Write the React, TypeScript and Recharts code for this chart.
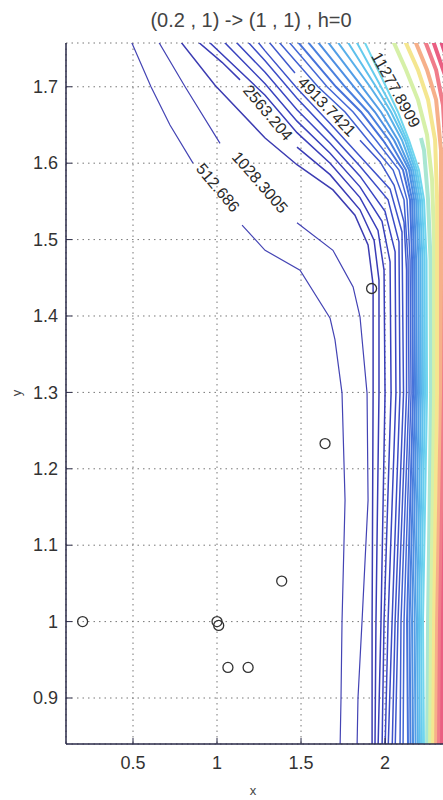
import React from 'react';
import { ComposedChart, Line, Scatter, XAxis, YAxis, CartesianGrid } from 'recharts';

type Pt = [number, number | null];

const FONT = '"Liberation Sans", Arial, Helvetica, sans-serif';

const TITLE = '(0.2 , 1) -> (1 , 1) , h=0';
const X_TICKS = [0.5, 1, 1.5, 2];
const Y_TICKS = [0.9, 1, 1.1, 1.2, 1.3, 1.4, 1.5, 1.6, 1.7];

// sample points drawn as open circles
const SAMPLE_X = [0.2, 1.0, 1.01, 1.065, 1.185, 1.385, 1.643, 1.92];
const SAMPLE_Y = [1.0, 1.0, 0.995, 0.94, 0.94, 1.053, 1.233, 1.436];

// contour lines, left (low level) to right (high level)
// a point with y = null is where clabel cut the line for its text
const LEVEL_01: Pt[] = [[0.488, 1.76], [0.607, 1.70], [0.72, 1.65], [0.857, 1.60], [1.0, null], [1.149, 1.519], [1.286, 1.486], [1.494, 1.46], [1.673, 1.397], [1.702, 1.369], [1.744, 1.299], [1.762, 1.159], [1.744, 1.0], [1.738, 0.9], [1.732, 0.83]];
const LEVEL_02: Pt[] = [[0.649, 1.76], [0.81, 1.70], [1.018, 1.626], [1.25, null], [1.476, 1.522], [1.69, 1.486], [1.81, 1.438], [1.851, 1.399], [1.893, 1.299], [1.899, 1.159], [1.863, 1.0], [1.839, 0.9], [1.833, 0.83]];
const LEVEL_03: Pt[] = [[0.78, 1.76], [0.988, 1.702], [1.286, 1.633], [1.476, 1.598], [1.69, 1.565], [1.821, 1.532], [1.899, 1.493], [1.929, 1.441], [1.929, 1.299], [1.923, 1.0], [1.923, 0.83]];
const LEVEL_04: Pt[] = [[0.881, 1.76], [1.03, 1.732], [1.137, 1.709], [1.3, null], [1.476, 1.621], [1.673, 1.585], [1.851, 1.539], [1.935, 1.499], [1.964, 1.447], [1.964, 1.299], [1.946, 1.0], [1.94, 0.83]];
const LEVEL_05: Pt[] = [[0.946, 1.76], [1.286, 1.689], [1.476, 1.64], [1.673, 1.6], [1.851, 1.555], [1.958, 1.512], [1.994, 1.46], [2.0, 1.299], [1.976, 1.0], [1.958, 0.83]];
const LEVEL_06: Pt[] = [[1.036, 1.76], [1.286, 1.704], [1.476, 1.655], [1.673, 1.613], [1.851, 1.569], [1.982, 1.524], [2.03, 1.471], [2.036, 1.299], [1.994, 1.0], [1.982, 0.83]];
const LEVEL_07: Pt[] = [[1.107, 1.76], [1.286, 1.719], [1.476, 1.67], [1.673, 1.626], [1.851, 1.583], [2.0, 1.537], [2.06, 1.484], [2.065, 1.299], [2.018, 1.0], [2.0, 0.83]];
const LEVEL_08: Pt[] = [[1.179, 1.76], [1.286, 1.734], [1.476, 1.685], [1.673, 1.639], [1.851, 1.596], [2.018, 1.552], [2.083, 1.497], [2.089, 1.299], [2.042, 1.0], [2.018, 0.83]];
const LEVEL_09: Pt[] = [[1.238, 1.76], [1.286, 1.747], [1.476, 1.698], [1.673, 1.652], [1.851, 1.609], [2.03, 1.566], [2.101, 1.51], [2.11, 1.299], [2.06, 1.0], [2.042, 0.83]];
const LEVEL_10: Pt[] = [[1.304, 1.76], [1.464, 1.718], [1.65, null], [1.851, 1.63], [1.97, 1.602], [2.054, 1.571], [2.113, 1.523], [2.128, 1.46], [2.128, 1.299], [2.077, 1.0], [2.06, 0.83]];
const LEVEL_11: Pt[] = [[1.363, 1.76], [1.601, 1.70], [1.762, 1.667], [1.899, 1.63], [2.048, 1.591], [2.113, 1.552], [2.137, 1.473], [2.143, 1.299], [2.095, 1.0], [2.089, 0.83]];
const LEVEL_12: Pt[] = [[1.423, 1.76], [1.655, 1.70], [1.81, 1.667], [1.946, 1.63], [2.083, 1.591], [2.131, 1.552], [2.149, 1.473], [2.155, 1.299], [2.113, 1.0], [2.107, 0.83]];
const LEVEL_13: Pt[] = [[1.476, 1.76], [1.708, 1.70], [1.857, 1.667], [1.988, 1.63], [2.107, 1.591], [2.149, 1.552], [2.161, 1.473], [2.167, 1.299], [2.131, 1.0], [2.137, 0.83]];
const LEVEL_14: Pt[] = [[1.536, 1.76], [1.762, 1.70], [1.899, 1.667], [2.024, 1.63], [2.125, 1.591], [2.161, 1.552], [2.173, 1.473], [2.179, 1.299], [2.146, 1.0], [2.152, 0.83]];
const LEVEL_15: Pt[] = [[1.595, 1.76], [1.815, 1.70], [1.94, 1.667], [2.054, 1.63], [2.143, 1.591], [2.173, 1.552], [2.185, 1.473], [2.19, 1.299], [2.161, 1.0], [2.167, 0.83]];
const LEVEL_16: Pt[] = [[1.655, 1.76], [1.863, 1.70], [1.976, 1.667], [2.077, 1.63], [2.155, 1.591], [2.185, 1.552], [2.199, 1.473], [2.202, 1.299], [2.176, 1.0], [2.182, 0.83]];
const LEVEL_17: Pt[] = [[1.714, 1.76], [1.911, 1.70], [2.012, 1.667], [2.101, 1.63], [2.167, 1.591], [2.196, 1.552], [2.211, 1.473], [2.214, 1.299], [2.19, 1.0], [2.196, 0.83]];
const LEVEL_18: Pt[] = [[1.774, 1.76], [1.946, 1.70], [2.036, 1.667], [2.119, 1.63], [2.179, 1.591], [2.208, 1.552], [2.223, 1.473], [2.226, 1.299], [2.202, 1.0], [2.208, 0.83]];
const LEVEL_19: Pt[] = [[1.827, 1.76], [1.976, 1.70], [2.057, 1.667], [2.131, 1.63], [2.19, 1.591], [2.22, 1.552], [2.235, 1.473], [2.238, 1.299], [2.214, 1.0], [2.22, 0.83]];
const LEVEL_20: Pt[] = [[1.875, 1.76], [2.006, 1.70], [2.077, 1.667], [2.143, 1.63], [2.202, 1.591], [2.232, 1.552], [2.247, 1.473], [2.25, 1.299], [2.226, 1.0], [2.232, 0.83]];
const LEVEL_21: Pt[] = [[2.214, 1.633], [2.232, 1.617], [2.256, 1.552], [2.271, 1.473], [2.274, 1.299], [2.256, 1.0], [2.25, 0.83]];
const LEVEL_22: Pt[] = [[2.048, 1.76], [2.125, 1.722], [2.196, 1.683], [2.25, 1.637], [2.28, 1.578], [2.292, 1.499], [2.292, 1.299], [2.274, 1.0], [2.268, 0.83]];
const LEVEL_23: Pt[] = [[2.119, 1.76], [2.196, 1.722], [2.256, 1.683], [2.298, 1.63], [2.31, 1.552], [2.31, 1.299], [2.292, 1.0], [2.286, 0.83]];
const LEVEL_24: Pt[] = [[2.179, 1.76], [2.25, 1.722], [2.304, 1.683], [2.333, 1.617], [2.333, 1.299], [2.31, 1.0], [2.304, 0.83]];
const LEVEL_25: Pt[] = [[2.238, 1.76], [2.304, 1.722], [2.345, 1.676], [2.363, 1.604], [2.351, 1.299], [2.327, 1.0], [2.321, 0.83]];
const LEVEL_26: Pt[] = [[2.286, 1.76], [2.357, 1.715], [2.387, 1.643], [2.369, 1.299], [2.345, 1.0], [2.339, 0.83]];
const LEVEL_27: Pt[] = [[2.333, 1.76], [2.4, 1.715], [2.4, 1.3]];

const CONTOURS = [
  LEVEL_01, LEVEL_02, LEVEL_03, LEVEL_04, LEVEL_05, LEVEL_06, LEVEL_07, LEVEL_08, LEVEL_09,
  LEVEL_10, LEVEL_11, LEVEL_12, LEVEL_13, LEVEL_14, LEVEL_15, LEVEL_16, LEVEL_17, LEVEL_18,
  LEVEL_19, LEVEL_20, LEVEL_21, LEVEL_22, LEVEL_23, LEVEL_24, LEVEL_25, LEVEL_26, LEVEL_27,
];

// clabel texts
const LABEL_TEXT = ['512.686', '1028.3005', '2563.204', '4913.7421', '11277.8909'];
const LABEL_X = [1.006, 1.256, 1.304, 1.655, 2.065];
const LABEL_Y = [1.568, 1.575, 1.666, 1.674, 1.696];

// styling
const LABEL_ANGLE = [50, 49, 50, 46, 61];
const CONTOUR_COLORS = [
  '#4444b4', '#4242b4', '#3c3cb2', '#3a3cb6', '#393eba', '#3942be', '#3a46c2', '#3b4cc6', '#3d52ca',
  '#3f58cc', '#4060d2', '#4468d6', '#4672da', '#4a80de', '#4d8ee2', '#529ee6', '#58b0ea', '#5ec0ec',
  '#66ccee', '#70d6ee', '#a8e6d2', '#d6f0a8', '#f4e690', '#f6b08a', '#f07c8a', '#ea5f82', '#e65582',
];
const lineWidth = (i: number) => (i < 2 ? 1.2 : i < 12 ? 1.5 : i < 20 ? 2 : 4);

const rows = (pts: Pt[]) => pts.map(([x, y]) => ({ x, y }));
const samples = SAMPLE_X.map((x, i) => ({ x, y: SAMPLE_Y[i] }));
const labels = LABEL_TEXT.map((text, i) => ({ x: LABEL_X[i], y: LABEL_Y[i], text, angle: LABEL_ANGLE[i] }));

const YTick = (props: any) => {
  const { x, y, payload } = props;
  return (
    <g>
      <line x1={x + 8} x2={x + 14} y1={y} y2={y} stroke="#2a2a48" />
      <text x={x} y={y} dy="0.35em" textAnchor="end" fontSize={18} fill="#333" fontFamily={FONT}>
        {payload.value}
      </text>
    </g>
  );
};

const XTick = (props: any) => {
  const { x, y, payload } = props;
  return (
    <g>
      <line x1={x} x2={x} y1={y - 12} y2={y - 18} stroke="#2a2a48" />
      <text x={x} y={y} dy="0.71em" textAnchor="middle" fontSize={18} fill="#333" fontFamily={FONT}>
        {payload.value}
      </text>
    </g>
  );
};

const CircleMark = (props: any) => (
  <circle cx={props.cx} cy={props.cy} r={5} fill="none" stroke="#333" strokeWidth={1.3} />
);

const LabelMark = (props: any) => {
  const { cx, cy, payload } = props;
  return (
    <text
      x={cx}
      y={cy}
      dy="0.35em"
      textAnchor="middle"
      fontSize={16}
      fill="#2a2a2a"
      fontFamily={FONT}
      transform={`rotate(${payload.angle} ${cx} ${cy})`}
    >
      {payload.text}
    </text>
  );
};

export default function App() {
  return (
    <div style={{ position: 'absolute', left: 0, top: 0, width: 443, height: 800, background: '#fff', overflow: 'hidden', fontFamily: FONT }}>
      <div style={{ position: 'absolute', top: 9, left: 251, transform: 'translateX(-50%)', fontSize: 20, color: '#444', whiteSpace: 'nowrap' }}>
        {TITLE}
      </div>
      <ComposedChart width={443} height={800} margin={{ top: 43, right: 0, bottom: 0, left: 0 }}>
        <CartesianGrid stroke="#777" strokeDasharray="1.5 4" />
        <XAxis
          type="number"
          dataKey="x"
          domain={[0.1012, 2.345]}
          allowDataOverflow
          ticks={X_TICKS}
          height={56}
          tickSize={0}
          tickMargin={12}
          tick={XTick}
          axisLine={{ stroke: '#2a2a48', strokeWidth: 1.5 }}
        />
        <YAxis
          type="number"
          dataKey="y"
          domain={[0.8398, 1.7573]}
          allowDataOverflow
          ticks={Y_TICKS}
          width={66}
          tickSize={0}
          tickMargin={8}
          tick={YTick}
          axisLine={{ stroke: '#2a2a48', strokeWidth: 1.5 }}
        />
        {CONTOURS.map((pts, i) => (
          <Line
            key={i}
            data={rows(pts)}
            dataKey="y"
            type="linear"
            stroke={CONTOUR_COLORS[i]}
            strokeWidth={lineWidth(i)}
            dot={false}
            activeDot={false}
            connectNulls={false}
            isAnimationActive={false}
          />
        ))}
        <Scatter data={samples} dataKey="y" shape={CircleMark} isAnimationActive={false} />
        <Scatter data={labels} dataKey="y" shape={LabelMark} isAnimationActive={false} />
      </ComposedChart>
      <div style={{ position: 'absolute', left: 16, top: 393, transform: 'translate(-50%, -50%) rotate(-90deg)', fontSize: 13, color: '#444' }}>y</div>
      <div style={{ position: 'absolute', left: 253, top: 790, transform: 'translate(-50%, -50%)', fontSize: 13, color: '#444' }}>x</div>
    </div>
  );
}
